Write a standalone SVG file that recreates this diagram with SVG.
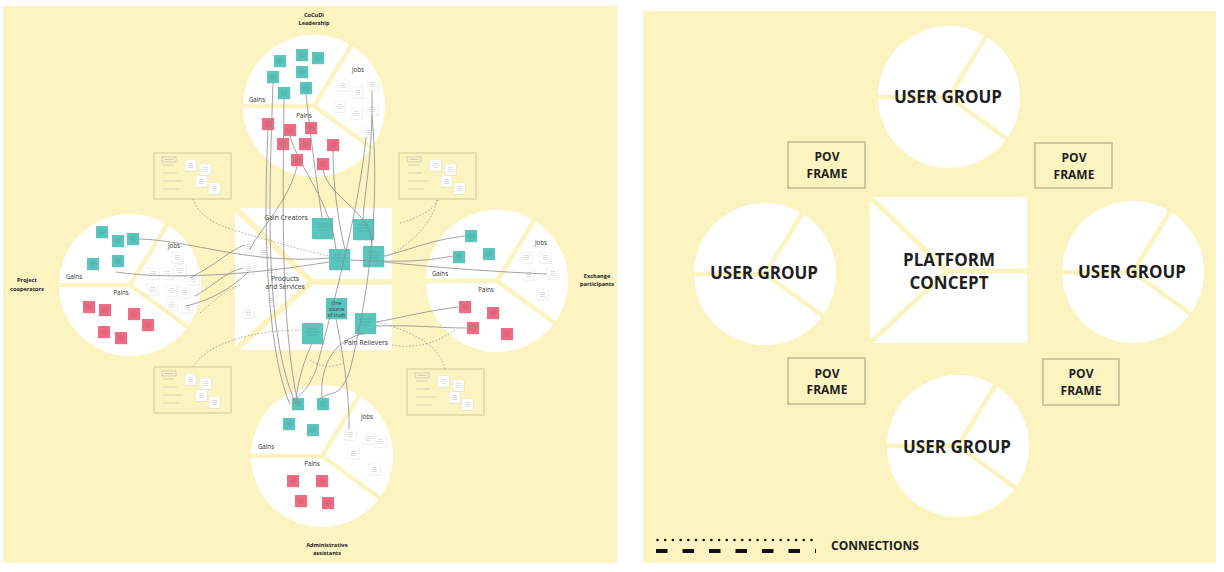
<svg xmlns="http://www.w3.org/2000/svg" width="1224" height="572" viewBox="0 0 1224 572">
<defs>
<style>
.bg{fill:#fbf4c0}
.band{stroke:#fbf4c0;stroke-width:4.5;fill:none;stroke-linecap:butt}
.big{font-family:"Open Sans","Noto Sans","DejaVu Sans",sans-serif;font-weight:700;fill:#1e1e1e;text-anchor:middle}
.pov{font-family:"Open Sans","Noto Sans","DejaVu Sans",sans-serif;font-weight:700;font-size:12px;fill:#1e1e1e;text-anchor:middle}
.frame{fill:#fbf4c0;stroke:#b7af8c;stroke-width:1.3}
.sm{font-family:"Open Sans","Noto Sans","DejaVu Sans",sans-serif;font-size:6.2px;fill:#333;text-anchor:middle}
.smb{font-family:"Open Sans","Noto Sans","DejaVu Sans",sans-serif;font-size:5.6px;font-weight:700;fill:#222;text-anchor:middle}
.con{fill:none;stroke:#8c8c8c;stroke-width:.8}
.dot{fill:none;stroke:#9a9a9a;stroke-width:.8;stroke-dasharray:1.6 1.8}
.nl{stroke:#3a3a3a;stroke-width:.4;opacity:.4}
</style>
<g id="pie"><circle r="71" fill="#fff"/><path class="band" d="M-82,0 H0 L43,-70 M0,0 L66,48"/></g>
<g id="tn"><rect x=".6" y=".8" width="12" height="12" fill="#000" opacity=".1"/><rect width="12" height="12" fill="#58c6bc"/><path class="nl" d="M3,4h6M2.5,6h7M3.5,8h5"/></g>
<g id="rn"><rect x=".6" y=".8" width="12" height="12" fill="#000" opacity=".1"/><rect width="12" height="12" fill="#ef6b82"/><path class="nl" d="M3,4h6M2.5,6h7M3.5,8h5"/></g>
<g id="wn"><rect x=".5" y=".7" width="11" height="11" fill="#000" opacity=".07"/><rect width="11" height="11" fill="#fff" stroke="#e6e6e6" stroke-width=".4"/><path class="nl" d="M3,3.5h5M2.5,5.5h6M3,7.5h5"/></g>
<g id="tb"><rect x=".8" y="1" width="21" height="21" fill="#000" opacity=".1"/><rect width="21" height="21" fill="#58c6bc"/><path class="nl" d="M5,6h11M4,9h13M6,12h9"/></g>
<g id="fr"><rect width="77" height="46" fill="none" stroke="#d2c898" stroke-width="1"/><rect x="8" y="4" width="14" height="5" fill="none" stroke="#aaa" stroke-width=".5"/><path d="M10,6.5h10" stroke="#999" stroke-width=".4"/><path d="M9,12h11M9,20h14M9,28h20M9,36h16" stroke="#aaa" stroke-width=".5"/><use href="#wn" x="31" y="7"/><use href="#wn" x="46" y="11"/><use href="#wn" x="42" y="23"/><use href="#wn" x="55" y="30"/></g>
</defs>

<!-- LEFT PANEL -->
<rect class="bg" x="3" y="6" width="614" height="557"/>

<g id="persona-top">
<use href="#pie" x="314" y="106"/>
<text class="smb" x="314" y="17">CoCuDi</text>
<text class="smb" x="314" y="25">Leadership</text>
<text class="sm" x="358" y="72">Jobs</text>
<text class="sm" x="257" y="102">Gains</text>
<text class="sm" x="304" y="118">Pains</text>
<use href="#tn" x="274" y="55"/><use href="#tn" x="296" y="49"/><use href="#tn" x="312" y="52"/><use href="#tn" x="296" y="66"/><use href="#tn" x="267" y="71"/><use href="#tn" x="278" y="87"/><use href="#tn" x="300" y="82"/>
<use href="#rn" x="262" y="118"/><use href="#rn" x="284" y="124"/><use href="#rn" x="305" y="122"/><use href="#rn" x="277" y="138"/><use href="#rn" x="299" y="138"/><use href="#rn" x="327" y="139"/><use href="#rn" x="291" y="154"/><use href="#rn" x="317" y="158"/>
<use href="#wn" x="338" y="80"/><use href="#wn" x="352" y="87"/><use href="#wn" x="367" y="79"/><use href="#wn" x="334" y="101"/><use href="#wn" x="351" y="108"/><use href="#wn" x="367" y="104"/><use href="#wn" x="362" y="127"/>
</g>

<g id="persona-left">
<use href="#pie" x="130" y="285"/>
<text class="smb" x="27" y="282">Project</text>
<text class="smb" x="27" y="291">cooperators</text>
<text class="sm" x="174" y="248">Jobs</text>
<text class="sm" x="74" y="279">Gains</text>
<text class="sm" x="121" y="295">Pains</text>
<use href="#tn" x="96" y="226"/><use href="#tn" x="112" y="235"/><use href="#tn" x="127" y="233"/><use href="#tn" x="87" y="258"/><use href="#tn" x="112" y="255"/>
<use href="#rn" x="83" y="301"/><use href="#rn" x="99" y="304"/><use href="#rn" x="128" y="308"/><use href="#rn" x="142" y="319"/><use href="#rn" x="98" y="326"/><use href="#rn" x="115" y="332"/>
<use href="#wn" x="172" y="252"/><use href="#wn" x="148" y="268"/><use href="#wn" x="162" y="268"/><use href="#wn" x="175" y="265"/><use href="#wn" x="188" y="274"/><use href="#wn" x="147" y="284"/><use href="#wn" x="166" y="285"/><use href="#wn" x="179" y="287"/><use href="#wn" x="166" y="299"/><use href="#wn" x="182" y="302"/>
</g>

<g id="persona-right">
<use href="#pie" x="497" y="281"/>
<text class="smb" x="597" y="278">Exchange</text>
<text class="smb" x="597" y="286">participants</text>
<text class="sm" x="541" y="245">Jobs</text>
<text class="sm" x="440" y="276">Gains</text>
<text class="sm" x="486" y="292">Pains</text>
<use href="#tn" x="465" y="230"/><use href="#tn" x="453" y="251"/><use href="#tn" x="483" y="248"/>
<use href="#rn" x="459" y="301"/><use href="#rn" x="487" y="307"/><use href="#rn" x="467" y="322"/><use href="#rn" x="501" y="328"/>
<use href="#wn" x="521" y="252"/><use href="#wn" x="540" y="252"/><use href="#wn" x="523" y="269"/><use href="#wn" x="547" y="268"/><use href="#wn" x="537" y="289"/>
</g>

<g id="persona-bottom">
<use href="#pie" x="322" y="456"/>
<text class="smb" x="327" y="547">Administrative</text>
<text class="smb" x="327" y="555">assistants</text>
<text class="sm" x="367" y="419">Jobs</text>
<text class="sm" x="266" y="449">Gains</text>
<text class="sm" x="312" y="466">Pains</text>
<use href="#tn" x="292" y="398"/><use href="#tn" x="317" y="398"/><use href="#tn" x="283" y="418"/><use href="#tn" x="307" y="424"/>
<use href="#rn" x="287" y="475"/><use href="#rn" x="316" y="475"/><use href="#rn" x="295" y="495"/><use href="#rn" x="322" y="497"/>
<use href="#wn" x="345" y="429"/><use href="#wn" x="363" y="433"/><use href="#wn" x="375" y="436"/><use href="#wn" x="348" y="448"/><use href="#wn" x="369" y="464"/>
</g>

<g id="value-map">
<rect x="235" y="208" width="157" height="142" fill="#fff"/>
<path class="band" style="stroke-width:6" d="M235,208 L312,282 L235,350 M312,282 H392"/>
<text class="sm" x="286" y="220" style="font-size:6.8px">Gain Creators</text>
<text class="sm" x="285" y="281" style="font-size:6.8px">Products</text>
<text class="sm" x="285" y="289" style="font-size:6.8px">and Services</text>
<text class="sm" x="366" y="345" style="font-size:6.8px">Pain Relievers</text>
<use href="#wn" x="243" y="241"/><use href="#wn" x="258" y="247"/><use href="#wn" x="243" y="263"/><use href="#wn" x="265" y="265"/><use href="#wn" x="265" y="295"/><use href="#wn" x="243" y="307"/>
<use href="#tb" x="312" y="218"/><use href="#tb" x="353" y="219"/><use href="#tb" x="329" y="249"/><use href="#tb" x="363" y="246"/><use href="#tb" x="355" y="313"/><use href="#tb" x="302" y="323"/>
<rect x="326.8" y="299" width="21" height="21" fill="#000" opacity=".1"/><rect x="326" y="298" width="21" height="21" fill="#58c6bc"/>
<text class="sm" x="336.5" y="305" style="font-size:5px">One</text>
<text class="sm" x="336.5" y="311" style="font-size:5px">source</text>
<text class="sm" x="336.5" y="317" style="font-size:5px">of truth</text>
</g>

<g id="pov-tl"><use href="#fr" x="154" y="153"/></g>
<g id="pov-tr"><use href="#fr" x="399" y="153"/></g>
<g id="pov-bl"><use href="#fr" x="154" y="367"/></g>
<g id="pov-br"><use href="#fr" x="407" y="369"/></g>

<g id="connectors-left">
<path class="con" d="M273,83 C270,180 262,330 296,404"/>
<path class="con" d="M284,99 C283,200 280,320 298,404"/>
<path class="con" d="M306,94 C312,150 318,190 322,218"/>
<path class="con" d="M268,130 C262,250 270,360 290,404"/>
<path class="con" d="M290,136 C300,170 330,200 336,249"/>
<path class="con" d="M333,151 C333,190 340,230 345,249"/>
<path class="con" d="M372,91 C373,150 365,190 363,219"/>
<path class="con" d="M372,116 C380,200 370,290 350,370 C340,400 330,390 322,398"/>
<path class="con" d="M366,137 C360,200 340,280 316,370 C308,390 300,395 296,398"/>
<path class="con" d="M297,166 C290,200 255,235 250,250"/>
<path class="con" d="M323,170 C330,200 372,210 372,246"/>
<path class="con" d="M139,239 C190,240 250,265 330,258"/>
<path class="con" d="M116,272 C170,280 250,275 329,262"/>
<path class="con" d="M190,278 C220,262 230,250 245,245"/>
<path class="con" d="M195,296 C215,285 225,272 243,268"/>
<path class="con" d="M186,306 C210,300 230,290 248,272"/>
<path class="con" d="M465,236 C430,240 410,250 384,256"/>
<path class="con" d="M453,256 C420,262 400,262 350,260"/>
<path class="con" d="M459,307 C430,310 400,318 376,322"/>
<path class="con" d="M467,328 C440,328 420,325 376,326"/>
<path class="con" d="M547,274 C500,272 440,268 384,262"/>
<path class="con" d="M349,429 C350,390 340,340 336,319"/>
<path class="con" d="M296,398 C300,370 308,352 312,344"/>
<path class="con" d="M322,398 C320,370 330,340 366,333"/>
<path class="dot" d="M193,199 C198,215 215,225 240,232 C270,240 300,250 329,256"/>
<path class="dot" d="M437,200 C432,225 410,245 384,258"/>
<path class="dot" d="M193,367 C205,345 250,330 302,330"/>
<path class="dot" d="M445,369 C440,345 410,330 376,322"/>
<path class="dot" d="M392,345 C420,350 440,340 455,330"/>
<path class="dot" d="M400,223 C420,218 435,208 438,200"/>
<path class="dot" d="M200,313 C215,300 225,290 240,285"/>
<path class="dot" d="M310,360 C320,368 335,368 345,362"/>
</g>

<!-- RIGHT PANEL -->
<rect class="bg" x="643" y="11" width="573" height="552"/>

<g id="user-group-top"><use href="#pie" x="949" y="97"/><text class="big" x="948" y="103" font-size="17">USER GROUP</text></g>
<g id="user-group-left"><use href="#pie" x="765" y="274"/><text class="big" x="764" y="279" font-size="17">USER GROUP</text></g>
<g id="user-group-right"><use href="#pie" x="1133" y="272"/><text class="big" x="1132" y="278" font-size="17">USER GROUP</text></g>
<g id="user-group-bottom"><use href="#pie" x="958" y="446"/><text class="big" x="957" y="453" font-size="17">USER GROUP</text></g>

<g id="platform-concept">
<rect x="870" y="197" width="157" height="146" fill="#fff"/>
<path class="band" style="stroke-width:5" d="M870,197 L947,271 L870,343 M947,271 H1027"/>
<text class="big" x="949" y="266" font-size="17">PLATFORM</text>
<text class="big" x="949" y="289" font-size="17">CONCEPT</text>
</g>

<g id="pov-frame-tl"><rect class="frame" x="788" y="142" width="77" height="46"/><text class="pov" x="827" y="161">POV</text><text class="pov" x="827" y="178">FRAME</text></g>
<g id="pov-frame-tr"><rect class="frame" x="1035" y="143" width="77" height="45"/><text class="pov" x="1074" y="162">POV</text><text class="pov" x="1074" y="179">FRAME</text></g>
<g id="pov-frame-bl"><rect class="frame" x="788" y="358" width="77" height="46"/><text class="pov" x="827" y="378">POV</text><text class="pov" x="827" y="394">FRAME</text></g>
<g id="pov-frame-br"><rect class="frame" x="1043" y="359" width="76" height="46"/><text class="pov" x="1081" y="378">POV</text><text class="pov" x="1081" y="395">FRAME</text></g>

<g id="legend">
<path d="M657.5,540 H812" stroke="#111" stroke-width="2.6" stroke-linecap="round" stroke-dasharray="0 7.7" fill="none"/>
<path d="M656,551 H816" stroke="#111" stroke-width="3.8" stroke-dasharray="11.5 15" fill="none"/>
<text class="pov" x="831" y="550" style="text-anchor:start">CONNECTIONS</text>
</g>
</svg>
